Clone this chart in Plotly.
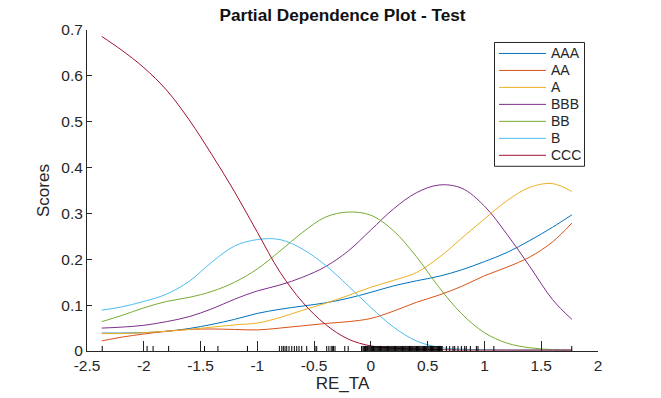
import plotly.graph_objects as go

# ---------------- data ----------------
x_vals = [-2.37, -2.2, -2.0, -1.8, -1.6, -1.4, -1.2, -1.0, -0.8, -0.6, -0.4,
          -0.2, 0.0, 0.2, 0.4, 0.6, 0.8, 1.0, 1.2, 1.4, 1.6, 1.77]

aaa = [0.039, 0.039, 0.040, 0.043, 0.049, 0.058, 0.069, 0.082, 0.091, 0.098, 0.105,
       0.115, 0.128, 0.142, 0.153, 0.163, 0.177, 0.195, 0.215, 0.241, 0.270, 0.297]
aa = [0.022, 0.030, 0.037, 0.043, 0.047, 0.048, 0.047, 0.046, 0.050, 0.055, 0.060,
      0.064, 0.071, 0.087, 0.106, 0.122, 0.141, 0.164, 0.183, 0.205, 0.238, 0.279]
a = [0.038, 0.038, 0.040, 0.043, 0.047, 0.052, 0.057, 0.061, 0.073, 0.089, 0.104,
     0.121, 0.139, 0.154, 0.171, 0.204, 0.246, 0.288, 0.328, 0.357, 0.365, 0.348]
bbb = [0.050, 0.052, 0.056, 0.064, 0.075, 0.092, 0.113, 0.131, 0.144, 0.161, 0.184,
       0.218, 0.264, 0.310, 0.345, 0.362, 0.355, 0.316, 0.254, 0.184, 0.112, 0.069]
bb = [0.064, 0.077, 0.094, 0.108, 0.117, 0.130, 0.150, 0.179, 0.218, 0.259, 0.292,
      0.303, 0.296, 0.262, 0.206, 0.139, 0.081, 0.040, 0.017, 0.007, 0.003, 0.002]
b = [0.089, 0.096, 0.108, 0.124, 0.152, 0.194, 0.229, 0.243, 0.243, 0.222, 0.187,
     0.142, 0.095, 0.052, 0.022, 0.008, 0.004, 0.003, 0.002, 0.002, 0.002, 0.002]
ccc = [0.686, 0.657, 0.618, 0.569, 0.504, 0.428, 0.347, 0.259, 0.172, 0.106, 0.058,
       0.026, 0.011, 0.006, 0.004, 0.003, 0.002, 0.002, 0.002, 0.002, 0.002, 0.002]

series_names = ["AAA", "AA", "A", "BBB", "BB", "B", "CCC"]
series_values = [aaa, aa, a, bbb, bb, b, ccc]
series_colors = ["#0072BD", "#D95319", "#EDB120", "#7E2F8E", "#77AC30", "#4DBEEE", "#A2142F"]

# observed predictor values (rug)
rug_x = [-2.366, -1.971, -1.918, -1.781, -1.465, -1.347, -1.087,
         -0.806, -0.785, -0.771, -0.756, -0.741, -0.721, -0.697, -0.674, -0.653,
         -0.633, -0.609, -0.565, -0.492, -0.477, -0.389, -0.37, -0.35, -0.34,
         -0.33, -0.316, -0.23, -0.2, -0.082,
         -0.07, -0.062, -0.055, -0.047, -0.04, -0.031, -0.024, -0.016, -0.008, 0.0,
         0.007, 0.015, 0.023, 0.03, 0.038, 0.046, 0.054, 0.061, 0.069, 0.077, 0.085,
         0.092, 0.1, 0.108, 0.116, 0.123, 0.131, 0.139, 0.147, 0.154, 0.162, 0.17,
         0.178, 0.185, 0.193, 0.201, 0.209, 0.216, 0.224, 0.232, 0.24, 0.247, 0.255,
         0.263, 0.271, 0.278, 0.286, 0.294, 0.302, 0.309, 0.317, 0.325, 0.333, 0.34,
         0.348, 0.356, 0.364, 0.371, 0.379, 0.387, 0.395, 0.402, 0.41, 0.418, 0.426,
         0.433, 0.441, 0.449, 0.457, 0.464, 0.472, 0.48, 0.488, 0.495, 0.503, 0.511,
         0.519, 0.526, 0.534, 0.542, 0.55, 0.557, 0.565, 0.573, 0.581, 0.588, 0.596,
         0.604, 0.612, 0.62, 0.628,
         0.665, 0.694, 0.723, 0.738, 0.767, 0.797, 0.826, 0.840, 0.876, 0.929,
         0.943, 1.083, 1.769]

x_tickvals = [-2.5, -2, -1.5, -1, -0.5, 0, 0.5, 1, 1.5, 2]
x_ticktext = ["-2.5", "-2", "-1.5", "-1", "-0.5", "0", "0.5", "1", "1.5", "2"]
y_tickvals = [0, 0.1, 0.2, 0.3, 0.4, 0.5, 0.6, 0.7]
y_ticktext = ["0", "0.1", "0.2", "0.3", "0.4", "0.5", "0.6", "0.7"]

# ---------------- style ----------------
W, H = 661, 398
ML, MR, MT, MB = 87, 63, 30, 46.5
PW, PH = W - ML - MR, H - MT - MB
RUG_H = 0.011
FONT = "Liberation Sans, Arial, Helvetica, sans-serif"
DARK = "#262626"


def px_x(px):
    return (px - ML) / PW


def px_y(py):
    return (H - MB - py) / PH


fig = go.Figure()

for name, vals, col in zip(series_names, series_values, series_colors):
    fig.add_trace(go.Scatter(x=x_vals, y=vals, mode="lines", name=name,
                             line=dict(color=col, width=1, shape="spline", smoothing=1.0)))

rx, ry = [], []
for v in rug_x:
    rx += [v, v, None]
    ry += [0, RUG_H, None]
fig.add_trace(go.Scatter(x=rx, y=ry, mode="lines", showlegend=False,
                         line=dict(color="#000000", width=1), hoverinfo="skip"))

# ---------------- legend (MATLAB style box) ----------------
LEG_L, LEG_R, LEG_T, LEG_B = 494, 584, 42, 166
ROW0, ROW_STEP = 53.5, 17
shapes = [dict(type="rect", xref="paper", yref="paper",
               x0=px_x(LEG_L + 0.5), x1=px_x(LEG_R + 0.5), y0=px_y(LEG_B + 0.5), y1=px_y(LEG_T + 0.5),
               line=dict(color=DARK, width=1), fillcolor="white", layer="above")]
annotations = []
for i, (name, col) in enumerate(zip(series_names, series_colors)):
    yc = ROW0 + i * ROW_STEP
    shapes.append(dict(type="line", xref="paper", yref="paper",
                       x0=px_x(499), x1=px_x(546), y0=px_y(yc), y1=px_y(yc),
                       line=dict(color=col, width=1), layer="above"))
    annotations.append(dict(xref="paper", yref="paper", x=px_x(549), y=px_y(yc),
                            text=name, showarrow=False, xanchor="left", yanchor="middle",
                            font=dict(size=14, color=DARK, family=FONT)))

fig.update_layout(
    template="none",
    width=W, height=H,
    margin=dict(l=ML, r=MR, t=MT, b=MB, pad=0, autoexpand=False),
    paper_bgcolor="white", plot_bgcolor="white",
    font=dict(family=FONT, color=DARK, size=15.5),
    title=dict(text="<b>Partial Dependence Plot - Test</b>", x=0.5, xref="paper",
               y=1 - 14.5 / H, yref="container", xanchor="center", yanchor="middle",
               font=dict(size=17.2, color="#111111", family=FONT), automargin=False),
    showlegend=False,
    shapes=shapes,
    annotations=annotations,
)

fig.update_xaxes(range=[-2.5, 2], tickvals=x_tickvals, ticktext=x_ticktext,
                 automargin=False,
                 showline=True, linecolor=DARK, linewidth=1, mirror=False,
                 ticks="inside", ticklen=10, tickwidth=1, tickcolor=DARK,
                 showgrid=False, zeroline=False,
                 tickfont=dict(size=15.5, color=DARK),
                 title=dict(text="RE_TA", font=dict(size=17, color=DARK), standoff=4))
fig.update_yaxes(range=[0, 0.7], tickvals=y_tickvals, ticktext=y_ticktext,
                 automargin=False,
                 showline=True, linecolor=DARK, linewidth=1, mirror=False,
                 ticks="inside", ticklen=5, tickwidth=1, tickcolor=DARK,
                 showgrid=False, zeroline=False,
                 tickfont=dict(size=15.5, color=DARK),
                 title=dict(text="Scores", font=dict(size=17, color=DARK), standoff=7))

fig.write_html("out.html", config={"displayModeBar": False},
               post_script="document.body.style.margin='0';document.body.style.padding='0';")
